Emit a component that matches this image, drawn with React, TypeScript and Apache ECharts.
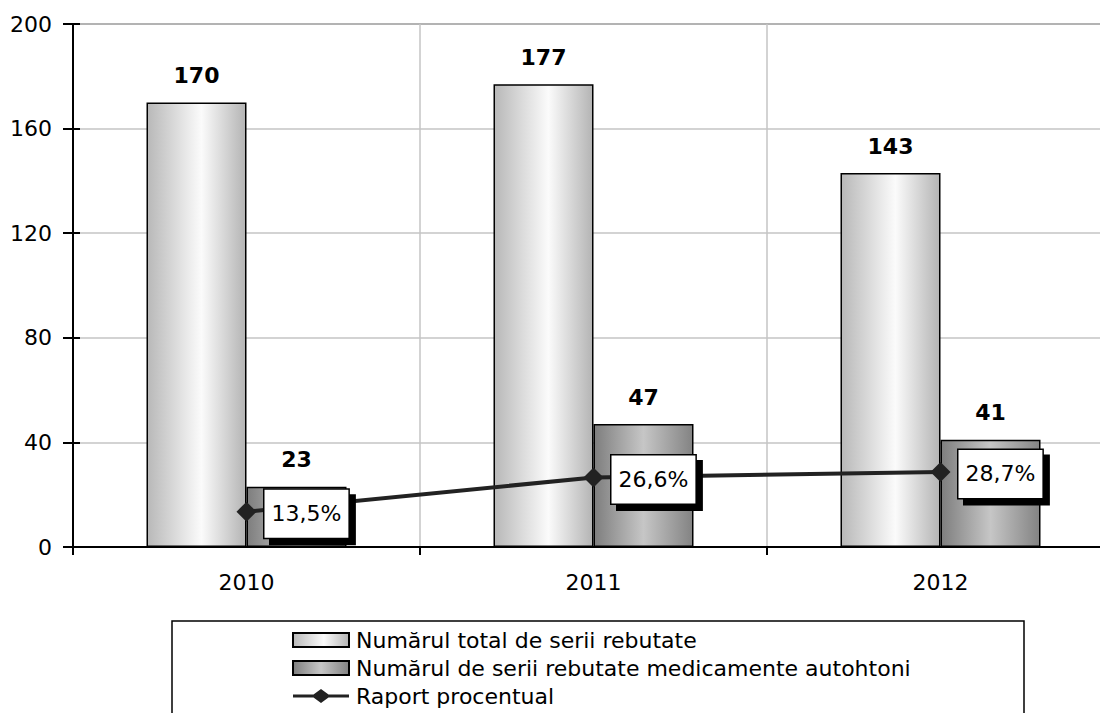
import React, { useEffect, useRef } from "react";
import * as echarts from "echarts";

const categories = ["2010", "2011", "2012"];
const totalSeries = [170, 177, 143];
const autohtonSeries = [23, 47, 41];
const ratioSeries = [13.5, 26.6, 28.7];
const ratioLabels = ["13,5%", "26,6%", "28,7%"];
const seriesNames = [
  "Numărul total de serii rebutate",
  "Numărul de serii rebutate medicamente autohtoni",
  "Raport procentual",
];

const FONT = "DejaVu Sans";
const LINE_ICON =
  "path://M0,5.5 L20.5,5.5 L28,0 L35.5,5.5 L56,5.5 L56,8.5 L35.5,8.5 L28,14 L20.5,8.5 L0,8.5 Z";

export default function App() {
  const ref = useRef<HTMLDivElement>(null);
  useEffect(() => {
    if (!ref.current) return;
    const chart = echarts.init(ref.current, undefined, { renderer: "svg" });
    const lightGrad = new echarts.graphic.LinearGradient(0, 0, 1, 0, [
      { offset: 0, color: "#b8b8b8" },
      { offset: 0.55, color: "#fbfbfb" },
      { offset: 1, color: "#b4b4b4" },
    ]);
    const darkGrad = new echarts.graphic.LinearGradient(0, 0, 1, 0, [
      { offset: 0, color: "#7e7e7e" },
      { offset: 0.5, color: "#c6c6c6" },
      { offset: 1, color: "#838383" },
    ]);
    chart.setOption({
      animation: false,
      textStyle: { fontFamily: FONT },
      grid: { left: 73, top: 24, height: 523, width: 1041, outerBoundsMode: "none", containLabel: false },
      graphic: [
        {
          type: "rect",
          shape: { x: 172, y: 621, width: 852, height: 130 },
          style: { fill: "none", stroke: "#000", lineWidth: 1.5 },
          z: -1,
        },
      ],
      legend: {
        orient: "vertical",
        left: 287,
        top: 624,
        height: 200,
        itemWidth: 56,
        itemHeight: 14,
        itemGap: 6,
        textStyle: { fontFamily: FONT, fontSize: 22, color: "#000", padding: [0, 0, 0, 2] },
        data: [
          { name: seriesNames[0], icon: "rect" },
          { name: seriesNames[1], icon: "rect" },
          { name: seriesNames[2], icon: LINE_ICON, itemStyle: { color: "#222", borderWidth: 0 } },
        ],
      },
      xAxis: {
        type: "category",
        data: categories,
        axisLine: { lineStyle: { color: "#000", width: 2 } },
        axisTick: { show: true, length: 8, lineStyle: { color: "#000", width: 2 } },
        axisLabel: { fontFamily: FONT, fontSize: 22, color: "#000", margin: 24 },
        splitLine: { show: true, lineStyle: { color: "#c4c4c4", width: 1.5 } },
      },
      yAxis: [
        {
          type: "value",
          min: 0,
          max: 200,
          interval: 40,
          axisLine: { show: true, lineStyle: { color: "#000", width: 2 } },
          axisTick: { show: true, length: 10, lineStyle: { color: "#000", width: 2 } },
          axisLabel: { fontFamily: FONT, fontSize: 22, color: "#000", margin: 21 },
          splitLine: {
            show: true,
            lineStyle: {
              color: ["#c4c4c4", "#c4c4c4", "#c4c4c4", "#c4c4c4", "#c4c4c4", "#9a9a9a"],
              width: 1.5,
            },
          },
        },
        {
          type: "value",
          position: "left",
          min: 0,
          max: 200,
          interval: 40,
          axisLine: { show: false },
          axisTick: { show: true, inside: true, length: 7, lineStyle: { color: "#000", width: 2 } },
          axisLabel: { show: false },
          splitLine: { show: false },
        },
      ],
      series: [
        {
          name: seriesNames[0],
          type: "bar",
          data: totalSeries,
          barWidth: 100,
          barGap: "0%",
          itemStyle: { color: lightGrad, borderColor: "#000", borderWidth: 1.5 },
          label: {
            show: true,
            position: "top",
            distance: 16,
            fontFamily: FONT,
            fontSize: 22,
            fontWeight: "bold",
            color: "#000",
          },
        },
        {
          name: seriesNames[1],
          type: "bar",
          data: autohtonSeries,
          barWidth: 100,
          barGap: "0%",
          itemStyle: { color: darkGrad, borderColor: "#000", borderWidth: 1.5 },
          label: {
            show: true,
            position: "top",
            distance: 16,
            fontFamily: FONT,
            fontSize: 22,
            fontWeight: "bold",
            color: "#000",
          },
        },
        {
          name: seriesNames[2],
          type: "line",
          data: ratioSeries,
          symbol: "diamond",
          symbolSize: 20,
          lineStyle: { color: "#222", width: 4 },
          itemStyle: { color: "#222" },
          z: 5,
          label: {
            show: true,
            position: "right",
            distance: 8,
            offset: [0, 2],
            formatter: (p: any) => ratioLabels[p.dataIndex],
            fontFamily: FONT,
            fontSize: 22,
            color: "#000",
            backgroundColor: "#fff",
            borderColor: "#000",
            borderWidth: 1.5,
            padding: [13, 7],
            shadowColor: "#000",
            shadowBlur: 0,
            shadowOffsetX: 6,
            shadowOffsetY: 6,
          },
        },
      ],
    });
    return () => chart.dispose();
  }, []);
  return (
    <div
      ref={ref}
      style={{ position: "absolute", left: 0, top: 0, width: 1100, height: 713 }}
    />
  );
}
